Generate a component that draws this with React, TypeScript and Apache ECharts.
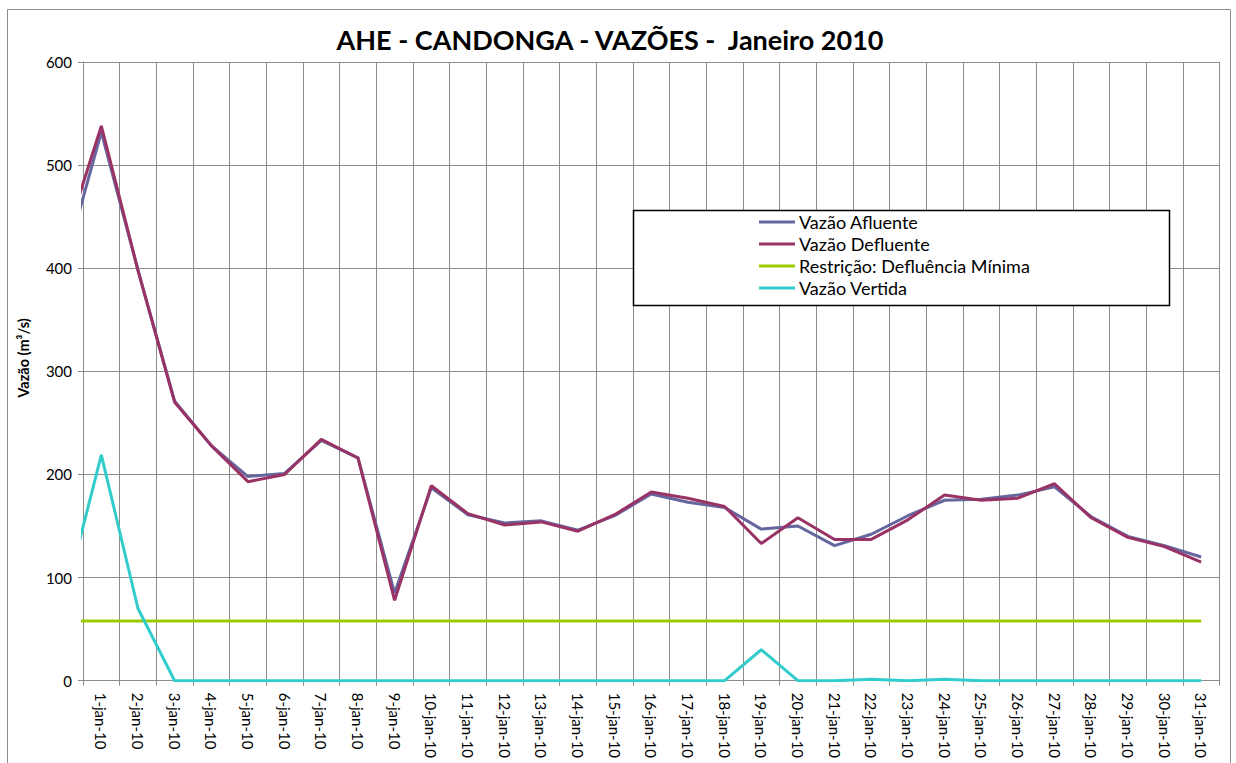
import React, { useEffect, useRef } from "react";
import * as echarts from "echarts";

const days: string[] = Array.from({ length: 31 }, (_, i) => `${i + 1}-jan-10`);

// index 0 = previous day (31-dez-09), only partly visible (clipped at left edge)
const afluente = [404, 532, 398, 271, 228, 198, 201, 233, 216, 85, 187, 161, 153, 155, 146, 160, 181, 173, 168, 147, 150, 131, 142, 160, 175, 176, 180, 188, 159, 140, 131, 120];
const defluente = [426, 538, 398, 270, 228, 193, 200, 234, 216, 78, 189, 162, 151, 154, 145, 161, 183, 177, 169, 133, 158, 137, 137, 156, 180, 175, 177, 191, 158, 139, 130, 115];
const restricao = [58, 58, 58, 58, 58, 58, 58, 58, 58, 58, 58, 58, 58, 58, 58, 58, 58, 58, 58, 58, 58, 58, 58, 58, 58, 58, 58, 58, 58, 58, 58, 58];
const vertida = [79, 219, 70, 0, 0, 0, 0, 0, 0, 0, 0, 0, 0, 0, 0, 0, 0, 0, 0, 30, 0, 0, 1.5, 0, 1.5, 0, 0, 0, 0, 0, 0, 0];

const seriesNames = ["Vazão Afluente", "Vazão Defluente", "Restrição: Defluência Mínima", "Vazão Vertida"];
const seriesColors = ["#66669E", "#993366", "#99CC00", "#33CCCC"];
const yTicks = { min: 0, max: 600, interval: 100 };
const yAxisTitle = "Vazão (m³/s)";

const FONT = "Lato, 'Open Sans', sans-serif";

export default function App() {
  const ref = useRef<HTMLDivElement>(null);
  useEffect(() => {
    if (!ref.current) return;
    const chart = echarts.init(ref.current, null, { renderer: "svg" });
    const toPts = (arr: number[]) => arr.map((v, i) => [i, v]);
    const datasets = [afluente, defluente, restricao, vertida];
    const order = [0, 1, 2, 3];
    chart.setOption({
      animation: false,
      backgroundColor: "#ffffff",
      textStyle: { fontFamily: FONT },
      title: {
        text: "AHE - CANDONGA - VAZÕES -  Janeiro 2010",
        left: 605,
        textAlign: "center",
        top: 21,
        textStyle: { fontSize: 27, fontWeight: "bold", color: "#000", fontFamily: FONT },
      },
      graphic: [
        {
          type: "rect",
          shape: { x: 7.5, y: 9.5, width: 1223, height: 770 },
          style: { fill: "none", stroke: "#8c8c8c", lineWidth: 1 },
          z: 0,
          silent: true,
        },
        {
          type: "rect",
          shape: { x: 633.5, y: 210.5, width: 536, height: 95 },
          style: { fill: "#ffffff", stroke: "#000000", lineWidth: 1.5 },
          z: 10,
          silent: true,
        },
        {
          type: "text",
          x: 23,
          y: 358,
          rotation: Math.PI / 2,
          style: {
            text: yAxisTitle,
            fontSize: 14.5,
            fontWeight: "bold",
            fontFamily: FONT,
            fill: "#000",
            align: "center",
            verticalAlign: "middle",
          },
          z: 10,
        },
      ],
      legend: {
        orient: "vertical",
        left: 759,
        top: 213,
        itemWidth: 36,
        itemHeight: 3,
        itemGap: 4,
        icon: "rect",
        z: 20,
        padding: 0,
        data: order.map((i) => ({ name: seriesNames[i], itemStyle: { color: seriesColors[i] } })),
        textStyle: { fontSize: 18, color: "#000", fontFamily: FONT, lineHeight: 18, padding: [0, 0, 0, -1] },
      },
      grid: { left: 83, top: 62, right: 16.5, bottom: 82.3, containLabel: false },
      xAxis: [
        {
          type: "category",
          data: days,
          boundaryGap: true,
          axisLine: { show: true, lineStyle: { color: "#8c8c8c", width: 1 } },
          axisTick: { show: true, interval: 0, length: 5, lineStyle: { color: "#8c8c8c" } },
          axisLabel: { interval: 0, rotate: -90, fontSize: 15, color: "#000", margin: 12, fontFamily: FONT },
          splitLine: { show: true, interval: 0, lineStyle: { color: "#8c8c8c", width: 1 } },
        },
        {
          type: "value",
          min: 0.5,
          max: 31.5,
          show: false,
          splitLine: { show: false },
        },
      ],
      yAxis: {
        type: "value",
        min: yTicks.min,
        max: yTicks.max,
        interval: yTicks.interval,
        axisLine: { show: true, lineStyle: { color: "#8c8c8c", width: 1 } },
        axisTick: { show: true, length: 5, lineStyle: { color: "#8c8c8c" } },
        axisLabel: { fontSize: 15, color: "#000", margin: 11, fontFamily: FONT },
        splitLine: { show: true, lineStyle: { color: "#8c8c8c", width: 1 } },
      },
      series: order.map((i) => ({
        name: seriesNames[i],
        type: "line",
        xAxisIndex: 1,
        data: toPts(datasets[i]),
        clip: true,
        symbol: "none",
        lineStyle: { color: seriesColors[i], width: 3 },
        itemStyle: { color: seriesColors[i] },
        z: 2 + (i === 1 ? 1 : 0),
      })),
    });
    return () => chart.dispose();
  }, []);
  return (
    <div
      ref={ref}
      style={{ position: "fixed", left: 0, top: 0, width: 1236, height: 763, background: "#fff" }}
    />
  );
}
